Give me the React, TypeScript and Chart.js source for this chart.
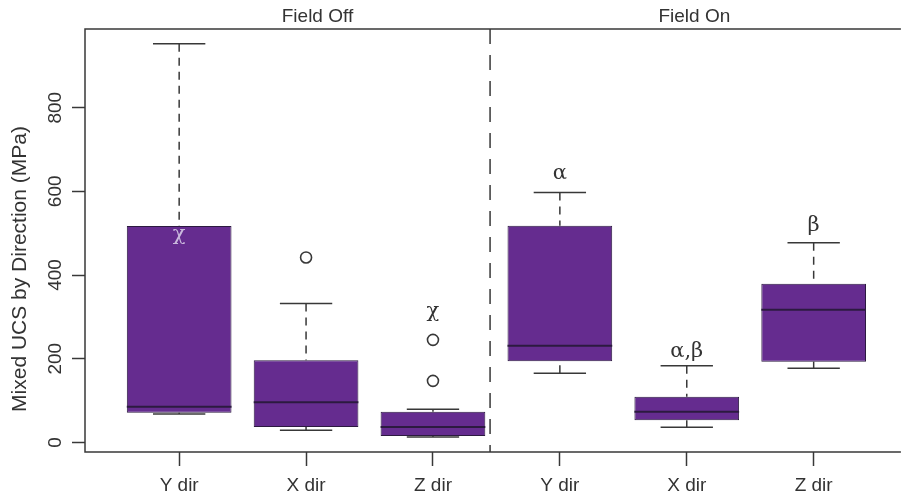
import React, { useEffect, useRef } from 'react';
import { Chart, registerables } from 'chart.js';

Chart.register(...registerables);

// ---- data ----
const groups = ['Field Off', 'Field On'];
const categories = ['Y dir', 'X dir', 'Z dir', 'Y dir', 'X dir', 'Z dir'];
const positions = [1, 2, 3, 4, 5, 6];
const whiskerLow = [68, 29, 13, 165, 36, 177];
const q1 = [71, 37, 15, 194, 53, 193];
const median = [85, 96, 37, 231, 73, 317];
const q3 = [517, 196, 73, 518, 109, 379];
const whiskerHigh = [953, 332, 79, 597, 183, 477];
const outliers: number[][] = [[], [442], [147, 245], [], [], []];
const letters = ['χ', '', 'χ', 'α', 'α,β', 'β'];
const letterValues = [496, 0, 312, 643, 217, 519];
const yTicks = [0, 200, 400, 600, 800];
const yTitle = 'Mixed UCS by Direction (MPa)';

// ---- layout / style constants ----
const groupCenters = [2.09, 5.06];
const dividerAt = 3.45;
const X_MIN = 0.258;
const X_MAX = 6.648;
const Y_MIN = -23;
const Y_MAX = 988;
const BOX_FILL = '#652c8f';
const BOX_EDGE = '#2c1a40';
const INK = '#383838';
const SANS = "'Liberation Sans', Arial, sans-serif";
const SERIF = "'DejaVu Serif', 'Liberation Serif', serif";

const extrasPlugin = {
  id: 'boxExtras',
  afterDatasetsDraw(chart: any) {
    const { ctx, chartArea: a, scales } = chart;
    const xs = scales.x;
    const ys = scales.y;
    const meta = chart.getDatasetMeta(0);
    const line = (x1: number, y1: number, x2: number, y2: number) => {
      ctx.beginPath();
      ctx.moveTo(x1, y1);
      ctx.lineTo(x2, y2);
      ctx.stroke();
    };
    ctx.save();
    positions.forEach((p, i) => {
      const bar = meta.data[i];
      const half = bar.width / 2;
      const cx = xs.getPixelForValue(p);
      const yHi = ys.getPixelForValue(whiskerHigh[i]);
      const yLo = ys.getPixelForValue(whiskerLow[i]);
      const yQ3 = ys.getPixelForValue(q3[i]);
      const yQ1 = ys.getPixelForValue(q1[i]);
      ctx.strokeStyle = INK;
      ctx.lineWidth = 1.5;
      ctx.setLineDash([8, 6]);
      line(cx, yHi, cx, yQ3);
      line(cx, yLo, cx, yQ1);
      ctx.setLineDash([]);
      line(cx - half / 2, yHi, cx + half / 2, yHi);
      line(cx - half / 2, yLo, cx + half / 2, yLo);
      ctx.strokeStyle = BOX_EDGE;
      ctx.lineWidth = 2;
      const ym = ys.getPixelForValue(median[i]);
      line(cx - half, ym, cx + half, ym);
      // letters
      if (letters[i]) {
        ctx.font = `21px ${SERIF}`;
        ctx.textAlign = 'center';
        ctx.textBaseline = 'middle';
        ctx.fillStyle = i === 0 ? '#c9b8dc' : '#333333';
        ctx.fillText(letters[i], cx, ys.getPixelForValue(letterValues[i]));
      }
    });

    // frame
    ctx.strokeStyle = INK;
    ctx.lineWidth = 1.5;
    ctx.beginPath();
    ctx.moveTo(a.right + 5, a.top);
    ctx.lineTo(a.left, a.top);
    ctx.lineTo(a.left, a.bottom);
    ctx.lineTo(a.right + 5, a.bottom);
    ctx.stroke();

    // divider
    const dx = xs.getPixelForValue(dividerAt);
    ctx.lineWidth = 1.5;
    ctx.setLineDash([15, 11]);
    line(dx, a.top, dx, a.bottom);
    ctx.setLineDash([]);

    // group titles
    ctx.fillStyle = '#333333';
    ctx.font = `19px ${SANS}`;
    ctx.textAlign = 'center';
    ctx.textBaseline = 'middle';
    groups.forEach((g, i) => {
      ctx.fillText(g, xs.getPixelForValue(groupCenters[i]), 17);
    });

    // y tick labels (rotated)
    ctx.font = `19px ${SANS}`;
    yTicks.forEach((v) => {
      ctx.save();
      ctx.translate(56, ys.getPixelForValue(v));
      ctx.rotate(-Math.PI / 2);
      ctx.fillText(String(v), 0, 0);
      ctx.restore();
    });

    // y title
    ctx.save();
    ctx.font = `21px ${SANS}`;
    ctx.translate(20, 269);
    ctx.rotate(-Math.PI / 2);
    ctx.fillText(yTitle, 0, 0);
    ctx.restore();

    ctx.restore();
  },
};

export default function App() {
  const ref = useRef<HTMLCanvasElement | null>(null);
  useEffect(() => {
    if (!ref.current) return;
    const chart = new Chart(ref.current, {
      type: 'bar',
      data: {
        datasets: [
          {
            type: 'bar',
            data: positions.map((p, i) => ({ x: p, y: [q1[i], q3[i]] })) as any,
            backgroundColor: BOX_FILL,
            borderColor: BOX_EDGE,
            borderWidth: 1,
            borderSkipped: false,
            barPercentage: 0.825,
            categoryPercentage: 1,
          } as any,
          {
            type: 'scatter',
            data: outliers.flatMap((arr, i) => arr.map((v) => ({ x: positions[i], y: v }))),
            pointStyle: 'circle',
            pointRadius: 5.5,
            pointBorderWidth: 1.6,
            pointBorderColor: INK,
            pointBackgroundColor: 'rgba(0,0,0,0)',
          } as any,
        ],
      },
      options: {
        animation: false,
        responsive: true,
        maintainAspectRatio: false,
        layout: { padding: { top: 29, left: 0, right: 0, bottom: 0 } },
        plugins: { legend: { display: false }, tooltip: { enabled: false } },
        scales: {
          x: {
            type: 'linear',
            min: X_MIN,
            max: X_MAX,
            offset: false,
            afterBuildTicks: (s: any) => {
              s.ticks = positions.map((v) => ({ value: v }));
            },
            afterFit: (s: any) => {
              s.height = 45;
            },
            grid: {
              display: true,
              offset: false,
              drawOnChartArea: false,
              drawTicks: true,
              tickLength: 14,
              tickColor: INK,
              tickWidth: 1.5,
            },
            border: { display: false },
            ticks: {
              autoSkip: false,
              maxRotation: 0,
              minRotation: 0,
              padding: 8,
              color: '#333333',
              font: { family: SANS, size: 19 },
              callback: (v: any) => {
                const idx = positions.indexOf(Number(v));
                return idx >= 0 ? categories[idx] : '';
              },
            },
          },
          y: {
            type: 'linear',
            min: Y_MIN,
            max: Y_MAX,
            afterBuildTicks: (s: any) => {
              s.ticks = yTicks.map((v) => ({ value: v }));
            },
            afterFit: (s: any) => {
              s.width = 85;
            },
            grid: {
              display: true,
              offset: false,
              drawOnChartArea: false,
              drawTicks: true,
              tickLength: 13,
              tickColor: INK,
              tickWidth: 1.5,
            },
            border: { display: false },
            ticks: { display: false },
          },
        },
      } as any,
      plugins: [extrasPlugin],
    });
    return () => chart.destroy();
  }, []);
  return (
    <div style={{ position: 'absolute', left: 0, top: 0, width: 903, height: 497, background: '#ffffff' }}>
      <canvas ref={ref} />
    </div>
  );
}
